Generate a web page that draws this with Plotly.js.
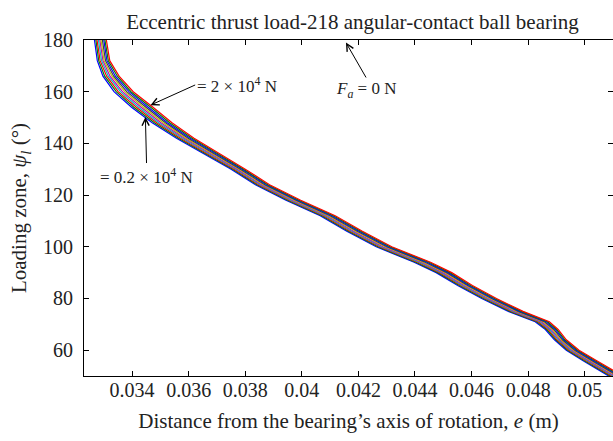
<!DOCTYPE html>
<html>
<head>
<meta charset="utf-8">
<script src="https://cdn.plot.ly/plotly-3.0.1.min.js"></script>
<style>html,body{margin:0;padding:0;background:#fff;}#chart{width:613px;height:441px;}</style>
</head>
<body>
<div id="chart"></div>
<script>
// Loading zone values (deg) shared by all curves
const loadingZone = [180,172,166,160,154,148,142,136,130,124,118,112,106,100,94,90,85,80,75,71,68,64,60,56,52,49];

// Eccentricity e (m) for each axial load Fa (x10^4 N)
const e_Fa02 = [0.03267,0.03277,0.03297,0.03336,0.03398,0.03471,0.03557,0.03655,0.03750,0.03836,0.03944,0.04065,0.04159,0.04263,0.04397,0.04475,0.04551,0.04636,0.04730,0.04825,0.04861,0.04893,0.04935,0.04993,0.05052,0.05100];
const e_Fa04 = [0.03272,0.03282,0.03303,0.03344,0.03406,0.03479,0.03564,0.03661,0.03756,0.03842,0.03950,0.04071,0.04165,0.04269,0.04403,0.04481,0.04557,0.04642,0.04736,0.04831,0.04866,0.04898,0.04940,0.04998,0.05058,0.05106];
const e_Fa06 = [0.03276,0.03287,0.03310,0.03351,0.03415,0.03487,0.03571,0.03667,0.03761,0.03847,0.03956,0.04077,0.04171,0.04275,0.04410,0.04487,0.04563,0.04648,0.04742,0.04836,0.04871,0.04902,0.04945,0.05004,0.05063,0.05111];
const e_Fa08 = [0.03281,0.03292,0.03316,0.03359,0.03423,0.03494,0.03578,0.03673,0.03767,0.03853,0.03961,0.04083,0.04177,0.04281,0.04416,0.04493,0.04568,0.04653,0.04747,0.04842,0.04876,0.04907,0.04950,0.05009,0.05069,0.05117];
const e_Fa10 = [0.03286,0.03297,0.03322,0.03366,0.03432,0.03502,0.03585,0.03679,0.03772,0.03858,0.03967,0.04089,0.04183,0.04287,0.04423,0.04499,0.04574,0.04659,0.04753,0.04847,0.04881,0.04912,0.04955,0.05014,0.05074,0.05122];
const e_Fa12 = [0.03290,0.03301,0.03329,0.03374,0.03440,0.03510,0.03591,0.03686,0.03778,0.03864,0.03973,0.04094,0.04190,0.04294,0.04429,0.04506,0.04580,0.04665,0.04759,0.04853,0.04886,0.04916,0.04960,0.05020,0.05080,0.05128];
const e_Fa14 = [0.03295,0.03306,0.03335,0.03381,0.03449,0.03518,0.03598,0.03692,0.03783,0.03869,0.03979,0.04100,0.04196,0.04300,0.04436,0.04512,0.04586,0.04671,0.04765,0.04858,0.04891,0.04921,0.04965,0.05025,0.05085,0.05133];
const e_Fa16 = [0.03300,0.03311,0.03341,0.03389,0.03457,0.03525,0.03605,0.03698,0.03789,0.03875,0.03984,0.04106,0.04202,0.04306,0.04442,0.04518,0.04591,0.04676,0.04770,0.04864,0.04896,0.04926,0.04970,0.05030,0.05091,0.05139];
const e_Fa18 = [0.03304,0.03316,0.03348,0.03396,0.03466,0.03533,0.03612,0.03704,0.03794,0.03880,0.03990,0.04112,0.04208,0.04312,0.04449,0.04524,0.04597,0.04682,0.04776,0.04869,0.04901,0.04930,0.04975,0.05036,0.05096,0.05144];
const e_Fa20 = [0.03309,0.03321,0.03354,0.03404,0.03474,0.03541,0.03619,0.03710,0.03800,0.03886,0.03996,0.04118,0.04214,0.04318,0.04455,0.04530,0.04603,0.04688,0.04782,0.04875,0.04906,0.04935,0.04980,0.05041,0.05102,0.05150];

const seriesNames = ['Fa = 0.2e4 N','Fa = 0.4e4 N','Fa = 0.6e4 N','Fa = 0.8e4 N','Fa = 1.0e4 N','Fa = 1.2e4 N','Fa = 1.4e4 N','Fa = 1.6e4 N','Fa = 1.8e4 N','Fa = 2.0e4 N'];
const seriesE = [e_Fa02,e_Fa04,e_Fa06,e_Fa08,e_Fa10,e_Fa12,e_Fa14,e_Fa16,e_Fa18,e_Fa20];
const seriesColors = ['#0000ff','#008000','#ff0000','#00bfbf','#bf00bf','#bfbf00','#404040','#0000ff','#008000','#ff0000'];

const xTickVals = [0.034,0.036,0.038,0.040,0.042,0.044,0.046,0.048,0.050];
const xTickText = ['0.034','0.036','0.038','0.04','0.042','0.044','0.046','0.048','0.05'];
const yTickVals = [60,80,100,120,140,160,180];

const traces = seriesE.map((e,i)=>({
  type:'scatter', mode:'lines', x:e, y:loadingZone, name:seriesNames[i],
  line:{color:seriesColors[i], width:1.2}, showlegend:false, hoverinfo:'skip'
}));

const FONT = 'Liberation Serif, Times New Roman, serif';
const txt = '#222';

const layout = {
  width:613, height:441,
  margin:{l:84, r:0, t:40, b:65},
  paper_bgcolor:'#fff', plot_bgcolor:'#fff',
  font:{family:FONT, size:20, color:txt},
  title:{text:'Eccentric thrust load-218 angular-contact ball bearing', font:{family:FONT, size:21, color:txt}, x:0.575, xanchor:'center', y:0.952, yanchor:'middle'},
  xaxis:{
    range:[0.0323,0.0510], tickvals:xTickVals, ticktext:xTickText,
    showline:true, linecolor:'#000', linewidth:1, mirror:'ticks',
    ticks:'inside', ticklen:5, tickcolor:'#000', showgrid:false, zeroline:false,
    tickfont:{family:FONT, size:20, color:txt}, ticklabelstandoff:-4,
    title:{text:'Distance from the bearing’s axis of rotation, <i>e</i> (m)', font:{family:FONT, size:21, color:txt}, standoff:13}
  },
  yaxis:{
    range:[50,180], tickvals:yTickVals,
    showline:true, linecolor:'#000', linewidth:1, mirror:'ticks',
    ticks:'inside', ticklen:5, tickcolor:'#000', showgrid:false, zeroline:false,
    tickfont:{family:FONT, size:20, color:txt}, ticklabelstandoff:6,
    title:{text:'Loading zone, <i>ψ<sub>l</sub></i> (°)', font:{family:FONT, size:21, color:txt}, standoff:10}
  },
  annotations:[
    {x:0.03465, y:154.8, ax:0.03623, ay:162.6, axref:'x', ayref:'y', xref:'x', yref:'y',
     text:'= 2 × 10<sup>4</sup> N', xanchor:'left', yanchor:'middle',
     showarrow:true, arrowhead:5, arrowsize:1.4, arrowwidth:1, arrowcolor:'#000', font:{family:FONT, size:17, color:txt}},
    {x:0.03447, y:150.2, ax:0.03451, ay:132.4, axref:'x', ayref:'y', xref:'x', yref:'y',
     text:'= 0.2 × 10<sup>4</sup> N', xanchor:'center', yanchor:'top',
     showarrow:true, arrowhead:5, arrowsize:1.4, arrowwidth:1, arrowcolor:'#000', font:{family:FONT, size:17, color:txt}},
    {x:0.04156, y:179.0, ax:0.04227, ay:165.5, axref:'x', ayref:'y', xref:'x', yref:'y',
     text:'<i>F<sub>a</sub></i> = 0 N', xanchor:'center', yanchor:'top',
     showarrow:true, arrowhead:5, arrowsize:1.4, arrowwidth:1, arrowcolor:'#000', font:{family:FONT, size:17, color:txt}}
  ]
};

Plotly.newPlot('chart', traces, layout, {displayModeBar:false, staticPlot:true});
</script>
</body>
</html>
